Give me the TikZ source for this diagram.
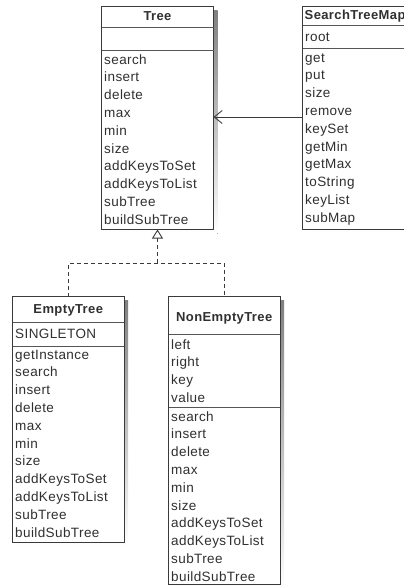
\documentclass[tikz,border=0pt]{standalone}
\usepackage{fontspec}
\setmainfont[LetterSpace=3]{Liberation Sans}
\usetikzlibrary{arrows.meta,backgrounds}

\definecolor{edge}{HTML}{3A3A3A}
\definecolor{txt}{HTML}{303030}
\definecolor{shade}{HTML}{C6C6C6}
\definecolor{sep}{HTML}{555555}

% member rows of a class box: #1 box name, #2 left x, #3 first row centre, #4 entries
\newcommand\memberrows[4]{%
  \foreach \m [count=\i from 0] in {#4} {
    \node[member] (#1-r#3-\i) at (#2+2.5,{#3+17.8*\i}) {\m};
  }%
}
% separator line across a box at height #2
\newcommand\separator[2]{%
  \draw[sepline] (#1.west |- 0,#2) -- (#1.east |- 0,#2);%
}

\begin{document}
\begin{tikzpicture}[x=1pt,y=-1pt,
  classbox/.style={draw=edge, fill=white, line width=1pt, inner sep=0pt,
    outer sep=0pt, anchor=north west},
  sepline/.style={draw=sep, line width=0.9pt},
  member/.style={anchor=west, inner sep=0pt, text=txt, text height=10pt,
    text depth=2pt, font=\fontsize{13.5}{15}\selectfont},
  classname/.style={anchor=center, inner sep=0pt, text=txt, text height=10pt,
    text depth=2.5pt, font=\fontsize{13}{15}\selectfont\bfseries},
  realize/.style={draw=edge, line width=0.9pt, dash pattern=on 4pt off 3pt},
  assoc/.style={draw=edge, line width=0.9pt,
    -{Straight Barb[length=8pt,width=13pt,line width=0.9pt]}},
  general/.style={-{Triangle[open,length=9pt,width=11pt,line width=0.9pt,fill=white]}},
]
\useasboundingbox (0,0) rectangle (404,587);
\clip (0,0) rectangle (404,587);

% class boxes
\node[classbox, minimum width=112pt, minimum height=223pt] (tree) at (101.5,6.5) {};
\node[classbox, minimum width=112pt, minimum height=223pt] (stm) at (302.5,6.5) {};
\node[classbox, minimum width=111.5pt, minimum height=245.5pt] (empty) at (12.5,296.5) {};
\node[classbox, minimum width=111.5pt, minimum height=288.5pt] (nonempty) at (168.5,296) {};

% drop shadows
\begin{scope}[on background layer]
  \foreach \b in {tree,stm,empty,nonempty}
    \fill[shade] ([shift={(4,4)}]\b.north west) rectangle ([shift={(4,4)}]\b.south east);
\end{scope}

% Tree
\node[classname] (tree-name) at (157.5,17) {Tree};
\separator{tree}{27.5}
\separator{tree}{50.5}
\memberrows{tree}{101.5}{60}{search,insert,delete,max,min,size,addKeysToSet,addKeysToList,subTree,buildSubTree}

% SearchTreeMap
\node[classname, anchor=west] (stm-name) at (304.5,15.5) {SearchTreeMap};
\separator{stm}{25}
\separator{stm}{48.5}
\memberrows{stm}{302.5}{37.5}{root}
\memberrows{stm}{302.5}{58}{get,put,size,remove,keySet,getMin,getMax,toString,keyList,subMap}

% EmptyTree
\node[classname] (empty-name) at (68.25,309.5) {EmptyTree};
\separator{empty}{322}
\separator{empty}{346}
\memberrows{empty}{12.5}{334}{SINGLETON}
\memberrows{empty}{12.5}{355}{getInstance,search,insert,delete,max,min,size,addKeysToSet,addKeysToList,subTree,buildSubTree}

% NonEmptyTree
\node[classname] (nonempty-name) at (224.25,318) {NonEmptyTree};
\separator{nonempty}{334}
\separator{nonempty}{407}
\memberrows{nonempty}{168.5}{345}{left,right,key,value}
\memberrows{nonempty}{168.5}{417}{search,insert,delete,max,min,size,addKeysToSet,addKeysToList,subTree,buildSubTree}

% association SearchTreeMap -> Tree
\coordinate (assoc-y) at (0,117);
\draw[assoc] (stm.west |- assoc-y) -- (tree.east |- assoc-y);

% realizations EmptyTree, NonEmptyTree -> Tree
\coordinate (junction) at (tree.south |- 0,263);
\draw[realize] (empty.north) |- (nonempty.north |- junction) -- (nonempty.north);
\draw[realize, general] (junction) -- (tree.south);
\end{tikzpicture}
\end{document}
